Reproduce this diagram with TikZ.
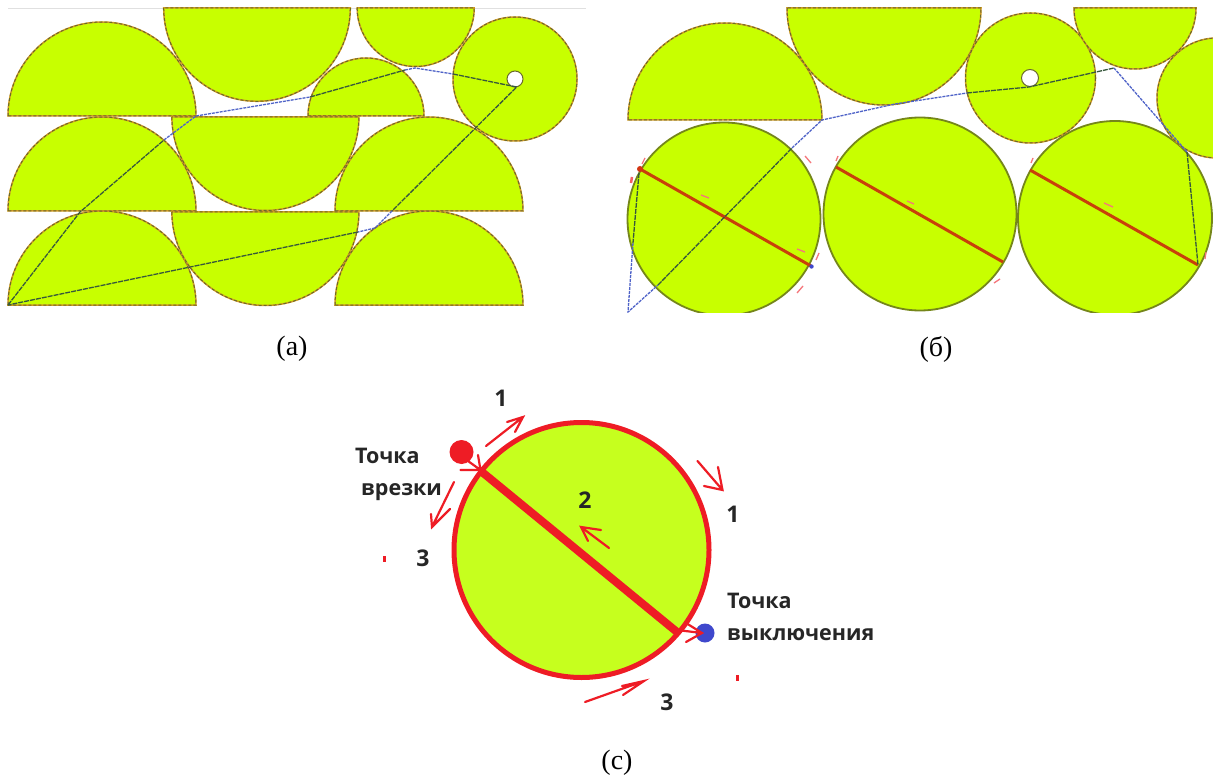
\documentclass[tikz,border=0pt]{standalone}
\usepackage{fontspec}
\setmainfont{Liberation Serif}
\newfontfamily\labelfont{Open Sans}
\definecolor{limea}{HTML}{C8FF00}
\definecolor{limec}{HTML}{C6FF1E}
\definecolor{ochre}{HTML}{D09A22}
\definecolor{darkdash}{HTML}{6A6A2A}
\definecolor{bigline}{HTML}{75861A}
\definecolor{pathblue}{HTML}{4F63C8}
\definecolor{pathdark}{HTML}{37583C}
\definecolor{mred}{HTML}{EE1C25}
\definecolor{mblue}{HTML}{3F48CC}
\definecolor{cutred}{HTML}{C8400A}
\definecolor{txt}{HTML}{262626}
\tikzset{
  shapefill/.style={fill=limea,draw=ochre,line width=1.5pt},
  shapedash/.style={draw=darkdash,line width=1pt,dash pattern=on 3pt off 2pt},
  bigcircle/.style={fill=limea,draw=bigline,line width=1.8pt},
  gappath/.style={draw=pathblue,line width=1.3pt,dash pattern=on 3pt off 1pt},
  overpath/.style={draw=pathdark,line width=1.3pt,dash pattern=on 5pt off 1pt},
  cutline/.style={draw=cutred,line width=3pt},
  tinymark/.style={draw=mred!60,line width=1.3pt},
  sketch/.style={draw=mred,line width=2.2pt,line cap=round},
  caption/.style={font=\fontsize{28}{30}\selectfont,text=black,inner sep=0pt},
  lab/.style={font=\labelfont\bfseries\fontsize{21.5}{24}\selectfont,text=txt,inner sep=0pt,anchor=west},
  num/.style={font=\labelfont\bfseries\fontsize{23}{25}\selectfont,text=txt,inner sep=0pt}
}
\newcommand{\mydome}[3]{%
  \path[shapefill] (#1-#3,#2) arc[start angle=180,end angle=360,radius=#3] -- cycle;
  \path[shapedash] (#1-#3,#2) arc[start angle=180,end angle=360,radius=#3] -- cycle;}
\newcommand{\mycup}[3]{%
  \path[shapefill] (#1-#3,#2) arc[start angle=180,end angle=0,radius=#3] -- cycle;
  \path[shapedash] (#1-#3,#2) arc[start angle=180,end angle=0,radius=#3] -- cycle;}
\newcommand{\mydisc}[3]{%
  \path[shapefill] (#1,#2) circle[radius=#3];
  \path[shapedash] (#1,#2) circle[radius=#3];}
\newcommand{\myhole}[3]{%
  \path[fill=white,draw=darkdash,line width=1pt] (#1,#2) circle[radius=#3];}
\newcommand{\mybig}[3]{%
  \path[bigcircle] (#1,#2) circle[radius=#3];}
\begin{document}
\begin{tikzpicture}[x=1pt,y=1pt,yscale=-1]
\useasboundingbox[fill=white] (0,0) rectangle (1213,778);
% ---------- panel a
\draw[black!12,line width=.8pt] (8,8) -- (586,8);
\mydisc{515}{79}{62}
\myhole{515}{79}{8}
\mydome{102}{116}{94}
\mycup{257}{8}{93.3}
\mycup{415.7}{8}{58.5}
\mydome{366}{116}{58}
\mydome{102}{211}{94}
\mycup{265.4}{117}{93.5}
\mydome{429}{211}{94}
\mydome{102}{305}{94}
\mycup{265.4}{212}{93.5}
\mydome{429}{305}{94}
\path[overpath] (8,305) -- (80,212) -- (164,140);
\path[gappath] (164,140) -- (196,116) -- (310,97);
\path[overpath] (310,97) -- (405,70);
\path[gappath] (405,70) -- (415,68) -- (453,74);
\path[overpath] (453,74) -- (516.7,87) -- (392,211);
\path[gappath] (392,211) -- (375,228) -- (358,232);
\path[overpath] (358,232) -- (8,305);
% ---------- panel b
\begin{scope}
\clip (610,0) rectangle (1213,312);
\mybig{724}{219}{96.5}
\mybig{920}{214}{96.5}
\mybig{1115}{218}{97}
\mydisc{1217}{98}{60}
\mydome{725}{120}{97}
\mycup{884}{8}{97}
\mydisc{1030.5}{78}{65}
\myhole{1030}{78}{8.5}
\mycup{1135}{8}{61}
\path[cutline] (640,169) -- (811,266);
\path[cutline] (836,167) -- (1003,262);
\path[cutline] (1030,170) -- (1198,265);
\path[overpath] (639,173) -- (633,243);
\path[gappath] (633,243) -- (628,312) -- (658,285);
\path[overpath] (658,285) -- (792,148);
\path[gappath] (792,148) -- (822,120) -- (895,104);
\path[gappath] (895,104) -- (967,93);
\path[overpath] (967,93) -- (1029,87) -- (1114,68);
\path[gappath] (1114,68) -- (1187,152);
\path[overpath] (1187,152) -- (1198,265);
\end{scope}
\path[fill=cutred!70!mred] (640,169) circle[radius=3];
\path[draw=mred!70,line width=2.5pt] (632,177) -- (631,183);
\path[fill=mblue] (811.5,266.5) circle[radius=2.2];
\foreach \xa/\ya/\xb/\yb in {
  645/158/642/164, 805/156/811/163, 701/195/709/198, 797/249/805/252,
  819/253/816/260, 803/286/797/293, 838/156/836/161, 907/201/914/204,
  994/283/1000/279, 1033/158/1031/163, 1104/203/1113/207, 1206/252/1205/259}
  {\path[tinymark] (\xa,\ya) -- (\xb,\yb);}
% ---------- panel c
\path[fill=limec,draw=mred,line width=5pt] (581.5,550) circle[radius=127.5];
\path[draw=mred,line width=8pt] (482,472) -- (677,632);
\path[fill=mred] (461.5,452) circle[radius=12];
\path[fill=mblue] (705,633) circle[radius=9.5];
\path[sketch] (486,446) -- (523,417) (507,422) -- (523,417) -- (515,432);
\path[sketch] (697.5,461) -- (722.5,490) (704,486) -- (722.5,490) -- (718,467);
\path[sketch] (454,482) -- (432,527) (450,509) -- (432,527) -- (431,514);
\path[sketch] (609,548) -- (581,527) (601,530) -- (581,527) -- (588,541);
\path[sketch] (585,702) -- (644,681) (622,686) -- (644,681) -- (623,695);
\path[sketch] (468,461) -- (480.5,470) (460.5,470) -- (480.5,470) -- (478,455);
\path[sketch] (677,630) -- (702,633) (686,642) -- (702,633) -- (686,623);
\path[fill=mred] (382.5,556) rectangle (385.5,562);
\path[fill=mred] (735.5,675) rectangle (738.5,681);
\node[lab] (t1) at (355,456) {Точка};
\node[lab] (t2) at (361,492) {врезки};
\node[lab] (t3) at (727,601) {Точка};
\node[lab] (t4) at (727,635) {выключения};
\node[num] (n1) at (501,398) {1};
\node[num] (n2) at (733,514) {1};
\node[num] (n3) at (585,500) {2};
\node[num] (n4) at (423,558) {3};
\node[num] (n5) at (667,702) {3};
\node[caption] (ca) at (292,349) {(а)};
\node[caption] (cb) at (936,349) {(б)};
\node[caption] (cc) at (617,763) {(с)};
\end{tikzpicture}
\end{document}
